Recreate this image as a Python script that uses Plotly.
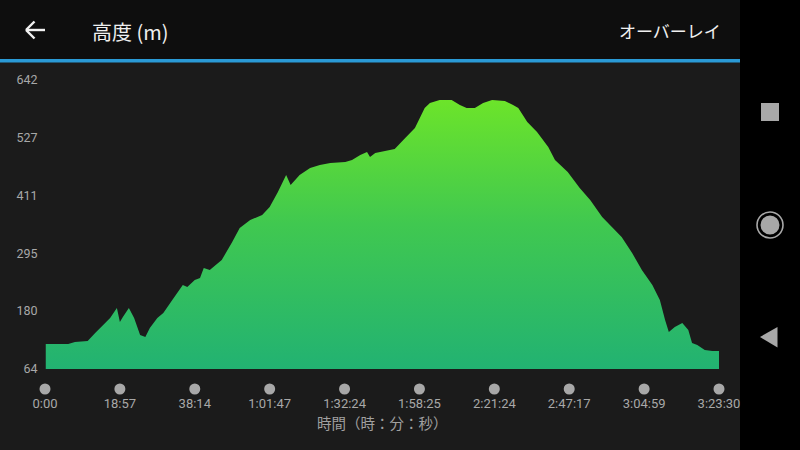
import plotly.graph_objects as go

# ---- data ----
# distance position along the track, in units of x-tick slots (0..9)
dist = [0.01, 0.31, 0.40, 0.57, 0.67, 0.77, 0.87, 0.96, 1.00, 1.04, 1.12, 1.19, 1.27, 1.34,
        1.40, 1.50, 1.58, 1.70, 1.80, 1.84, 1.90, 2.00, 2.07, 2.12, 2.20, 2.36, 2.50, 2.60,
        2.74, 2.90, 3.00, 3.11, 3.22, 3.28, 3.40, 3.54, 3.67, 3.81, 4.01, 4.10, 4.21, 4.30,
        4.34, 4.41, 4.54, 4.67, 4.81, 4.94, 5.07, 5.14, 5.27, 5.43, 5.54, 5.63, 5.74, 5.85,
        5.97, 6.14, 6.25, 6.32, 6.44, 6.57, 6.72, 6.81, 6.98, 7.14, 7.28, 7.44, 7.57, 7.70,
        7.84, 7.97, 8.11, 8.21, 8.28, 8.33, 8.41, 8.51, 8.59, 8.64, 8.71, 8.81, 8.91, 9.00]
elev = [114, 114, 118, 120, 136, 152, 166, 186, 158, 168, 186, 166, 132, 128,
        146, 166, 176, 202, 222, 232, 228, 242, 246, 266, 262, 282, 318, 346,
        362, 372, 388, 418, 452, 432, 452, 466, 472, 476, 478, 482, 492, 498,
        488, 496, 500, 504, 526, 546, 586, 596, 602, 602, 592, 586, 586, 596,
        602, 600, 592, 586, 558, 538, 508, 482, 458, 426, 402, 368, 348, 328,
        296, 262, 232, 202, 162, 138, 148, 156, 142, 116, 112, 102, 100, 100]

x_tick_pos = [0, 1, 2, 3, 4, 5, 6, 7, 8, 9]
x_tick_text = ["0:00", "18:57", "38:14", "1:01:47", "1:32:24", "1:58:25",
               "2:21:24", "2:47:17", "3:04:59", "3:23:30"]
y_tick_vals = [64, 180, 295, 411, 527, 642]

title_text = "高度 (m)"
right_text = "オーバーレイ"
x_title = "時間（時：分：秒）"

# ---- geometry of the plot area (pixels) ----
L, R_EDGE, T, B = 45, 719, 80, 369
W, H = R_EDGE - L, B - T


def PX(x):
    return (x - L) / W


def PY(y):
    return (B - y) / H


BG = "#1b1b1b"
HEADER = "#0e0e0e"
GRAY = "#a8a8a8"
CJK = "Noto Sans CJK JP, Roboto, sans-serif"

fig = go.Figure()
fig.add_trace(go.Scatter(
    x=dist, y=elev, mode="lines", line=dict(width=0, color="rgba(0,0,0,0)"),
    fill="tozeroy",
    fillgradient=dict(type="vertical", start=64, stop=642,
                      colorscale=[[0, "rgb(34,178,114)"], [0.5, "rgb(64,200,80)"],
                                  [0.93, "rgb(108,228,42)"], [1, "rgb(112,230,40)"]]),
    hoverinfo="skip", showlegend=False,
))

shapes = []
# header bar
shapes.append(dict(type="rect", xref="paper", yref="paper", x0=PX(0), x1=PX(740),
                   y0=PY(0), y1=PY(59), fillcolor=HEADER, line=dict(width=0), layer="below"))
# blue line
shapes.append(dict(type="rect", xref="paper", yref="paper", x0=PX(0), x1=PX(740),
                   y0=PY(59), y1=PY(62.5), fillcolor="#2a9ad6", line=dict(width=0), layer="below"))
# right nav bar
shapes.append(dict(type="rect", xref="paper", yref="paper", x0=PX(740), x1=PX(800),
                   y0=PY(0), y1=PY(450), fillcolor="#000000", line=dict(width=0), layer="below"))
# back arrow
for (xa, ya, xb, yb) in [(26, 30, 45, 30), (26, 30, 34.5, 21.5), (26, 30, 34.5, 38.5)]:
    shapes.append(dict(type="line", xref="paper", yref="paper", x0=PX(xa), y0=PY(ya),
                       x1=PX(xb), y1=PY(yb), line=dict(color="#f2f2f2", width=2.4)))
# nav icons
shapes.append(dict(type="rect", xref="paper", yref="paper", x0=PX(761), x1=PX(779),
                   y0=PY(103), y1=PY(121), fillcolor=GRAY, line=dict(width=0)))
shapes.append(dict(type="circle", xref="paper", yref="paper", x0=PX(757), x1=PX(783),
                   y0=PY(212), y1=PY(238), fillcolor="rgba(0,0,0,0)",
                   line=dict(color=GRAY, width=1.6)))
shapes.append(dict(type="circle", xref="paper", yref="paper", x0=PX(760.5), x1=PX(779.5),
                   y0=PY(215.5), y1=PY(234.5), fillcolor=GRAY, line=dict(width=0)))
tri = "M {} {} L {} {} L {} {} Z".format(PX(760), PY(337), PX(777.5), PY(327), PX(777.5), PY(347.5))
shapes.append(dict(type="path", xref="paper", yref="paper", path=tri, fillcolor=GRAY,
                   line=dict(width=0)))
# tick dots below the axis
for v in x_tick_pos:
    cx = L + v / 9 * W
    shapes.append(dict(type="circle", xref="paper", yref="paper", x0=PX(cx - 5.5), x1=PX(cx + 5.5),
                       y0=PY(383.5), y1=PY(394.5), fillcolor=GRAY, line=dict(width=0)))

annotations = [
    dict(text=title_text, xref="paper", yref="paper", x=PX(90), y=PY(31), xanchor="left",
         yanchor="middle", showarrow=False, font=dict(family=CJK, size=20, color="#f0f0f0")),
    dict(text=right_text, xref="paper", yref="paper", x=PX(723), y=PY(30), xanchor="right",
         yanchor="middle", showarrow=False, font=dict(family=CJK, size=17, color="#f0f0f0")),
    dict(text=x_title, xref="paper", yref="paper", x=0.5, y=PY(422), xanchor="center",
         yanchor="middle", showarrow=False, font=dict(family=CJK, size=14.5, color="#a0a0a0")),
]

fig.update_layout(
    width=800, height=450,
    margin=dict(l=L, r=800 - R_EDGE, t=T, b=450 - B, pad=0),
    paper_bgcolor=BG, plot_bgcolor=BG,
    shapes=shapes, annotations=annotations, showlegend=False,
    xaxis=dict(range=[0, 9], tickvals=x_tick_pos, ticktext=x_tick_text, showgrid=False,
               zeroline=False, showline=False, ticks="outside", ticklen=22,
               tickcolor="rgba(0,0,0,0)", tickfont=dict(family="Roboto", size=13, color=GRAY),
               fixedrange=True),
    yaxis=dict(range=[64, 642], tickvals=y_tick_vals, ticktext=[str(v) for v in y_tick_vals],
               showgrid=False, zeroline=False, showline=False, ticks="outside", ticklen=4,
               tickcolor="rgba(0,0,0,0)", tickfont=dict(family="Roboto", size=12.5, color=GRAY),
               fixedrange=True),
)

fig.write_html("out.html", config={"displayModeBar": False},
               post_script="document.body.style.margin='0';document.body.style.background='#000';")
